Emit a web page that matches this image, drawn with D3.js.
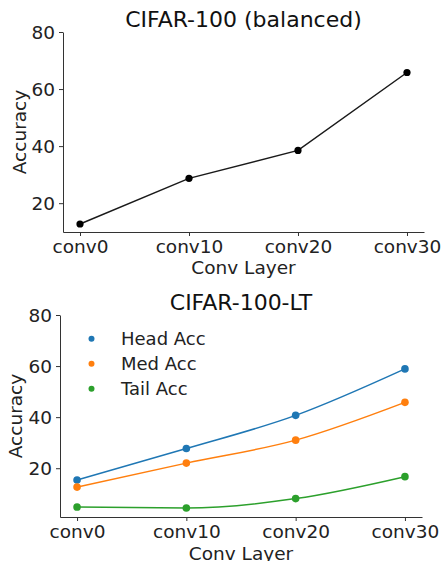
<!DOCTYPE html>
<html><head><meta charset="utf-8">
<script src="https://cdn.jsdelivr.net/npm/d3@7/dist/d3.min.js"></script>
<style>
body{margin:0;background:#fff;}
svg{display:block;font-family:"DejaVu Sans",sans-serif;}
.axis path,.axis line{stroke:#333;}
.axis text{fill:#222;font-size:18.5px;font-family:"DejaVu Sans",sans-serif;}
</style></head>
<body>
<script>
const layers = ["conv0","conv10","conv20","conv30"];
const balancedAcc = [12.7, 28.7, 38.5, 65.8];
const headAcc = [15.4, 27.7, 40.7, 58.9];
const medAcc = [12.6, 22.0, 31.0, 45.8];
const tailAcc = [4.8, 4.4, 8.1, 16.7];
const seriesNames = ["Head Acc","Med Acc","Tail Acc"];
const seriesColors = ["#1f77b4","#ff7f0e","#2ca02c"];
const yTicks = [20, 40, 60, 80];

const W = 441, H = 561;
const svg = d3.select("body").append("svg").attr("width", W).attr("height", H);

function panel(cfg) {
  const g = svg.append("g");
  const x = d3.scalePoint().domain(layers).range([cfg.left, cfg.right]).padding(0.156);
  const y = d3.scaleLinear().domain(cfg.ydom).range([cfg.bottom, cfg.top]);
  g.append("g").attr("class","axis").attr("transform",`translate(0,${cfg.bottom})`)
    .call(d3.axisBottom(x).tickSize(4).tickPadding(4).tickSizeOuter(0));
  g.append("g").attr("class","axis").attr("transform",`translate(${cfg.left},0)`)
    .call(d3.axisLeft(y).tickValues(yTicks).tickSize(4).tickPadding(4).tickSizeOuter(0))
    .call(a => a.selectAll("text").attr("dy","0.36em"));
  g.append("text").attr("x",(cfg.left+cfg.right)/2).attr("y",cfg.titleY)
    .attr("text-anchor","middle").attr("font-size","22px").attr("fill","#111").text(cfg.title);
  g.append("text").attr("x",(cfg.left+cfg.right)/2).attr("y",cfg.xlabY)
    .attr("text-anchor","middle").attr("font-size","18.5px").attr("fill","#222").text("Conv Layer");
  g.append("text").attr("transform",`translate(${cfg.ylabX},${(cfg.top+cfg.bottom)/2}) rotate(-90)`)
    .attr("text-anchor","middle").attr("font-size","18.5px").attr("fill","#222").text("Accuracy");
  return {g, x, y};
}

// Top panel
const p1 = panel({left:63, right:424, top:32, bottom:232, ydom:[9.9,80], title:"CIFAR-100 (balanced)", titleY:27, xlabY:274, ylabX:26});
const line1 = d3.line().x((d,i)=>p1.x(layers[i])).y(d=>p1.y(d));
p1.g.append("path").datum(balancedAcc).attr("d",line1).attr("fill","none").attr("stroke","#1a1a1a").attr("stroke-width",1.5);
p1.g.selectAll("circle.b").data(balancedAcc).enter().append("circle")
  .attr("cx",(d,i)=>p1.x(layers[i])).attr("cy",d=>p1.y(d)).attr("r",3.6).attr("fill","#000");

// Bottom panel
const p2 = panel({left:60, right:422, top:315, bottom:517, ydom:[0.9,80], title:"CIFAR-100-LT", titleY:310, xlabY:560, ylabX:22});
const line2 = d3.line().x((d,i)=>p2.x(layers[i])).y(d=>p2.y(d)).curve(d3.curveMonotoneX);
[headAcc, medAcc, tailAcc].forEach((s,k)=>{
  p2.g.append("path").datum(s).attr("d",line2).attr("fill","none").attr("stroke",seriesColors[k]).attr("stroke-width",1.5);
  p2.g.selectAll(null).data(s).enter().append("circle")
    .attr("cx",(d,i)=>p2.x(layers[i])).attr("cy",d=>p2.y(d)).attr("r",3.8).attr("fill",seriesColors[k]);
});
// Legend
const lg = p2.g.append("g");
seriesNames.forEach((n,k)=>{
  const yy = 338.7 + k*25;
  lg.append("circle").attr("cx",91.5).attr("cy",yy).attr("r",3).attr("fill",seriesColors[k]);
  lg.append("text").attr("x",121).attr("y",yy).attr("dy","0.36em").attr("font-size","18px").attr("fill","#222").text(n);
});
</script>
</body></html>
